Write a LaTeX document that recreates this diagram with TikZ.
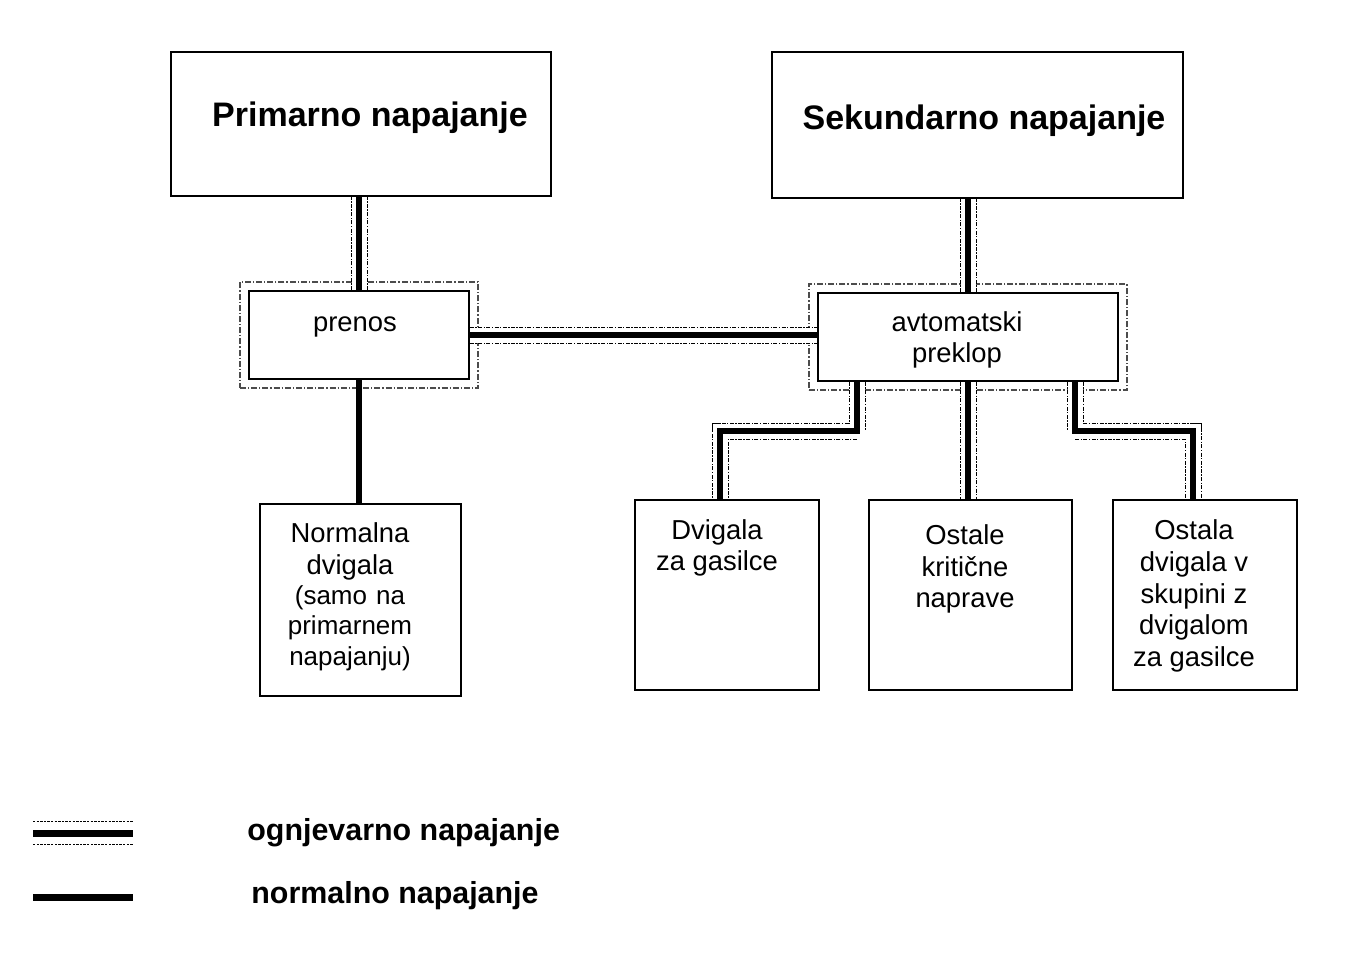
\documentclass[tikz,border=0pt]{standalone}
\usepackage{fontspec}
\setmainfont{Liberation Sans}
\usetikzlibrary{positioning,fit,backgrounds}

\begin{document}
\begin{tikzpicture}[x=0.5pt,y=-0.5pt,
        box/.style = {draw, line width=1pt, fill=white, inner sep=0pt},
        title/.style = {font=\fontsize{17}{20}\selectfont\bfseries, inner sep=0pt},
        txt/.style = {font=\fontsize{13.7}{15.8}\selectfont, align=center, inner sep=0pt},
        frame/.style = {draw=black!70, line width=0.6pt, densely dashdotted, inner sep=4pt},
        fire/.style = {draw=white, line width=7.5pt,
            preaction={draw=black, line width=8.5pt, dash pattern=on 2pt off 0.7pt on 0.7pt off 0.7pt},
            postaction={draw=black, line width=3pt}},
        firekey/.style = {draw=white, line width=11pt,
            preaction={draw=black, line width=12pt, dash pattern=on 1.2pt off 0.6pt},
            postaction={draw=black, line width=3.5pt}},
        normal/.style = {line width=3pt}]

    \useasboundingbox (0,0) rectangle (1364,958);

    \node[box, minimum width=190pt, minimum height=72pt] (prim) at (361,124) {};
    \node[title] (primtxt) at (370,118) {Primarno napajanje};
    \node[box, minimum width=205.5pt, minimum height=73pt] (sek) at (977.5,125) {};
    \node[title] (sektxt) at (984,121) {Sekundarno napajanje};

    \node[box, minimum width=110pt, minimum height=44pt] (prenos) at (359,335) {};
    \node[txt] (prenostxt) at (355,327) {prenos};
    \node[box, minimum width=150pt, minimum height=44pt] (preklop) at (968,337) {};
    \node[txt] (preklotxt) at (957,340) {avtomatski\\preklop};

    \node[box, minimum width=100.5pt, minimum height=96pt] (normal) at (360.5,600) {};
    \node[txt, text width=100pt] (normaltxt) at (350,597)
        {Normalna\\dvigala\par\fontsize{13}{15}\selectfont(samo na\\primarnem\\napajanju)};
    \node[box, minimum width=92pt, minimum height=95pt] (gasilci) at (727,595) {};
    \node[txt] (gasilcitxt) at (717,548) {Dvigala\\za gasilce};
    \node[box, minimum width=101.5pt, minimum height=95pt] (kriticne) at (970.5,595) {};
    \node[txt] (kriticnetxt) at (965,569) {Ostale\\kritične\\naprave};
    \node[box, minimum width=92pt, minimum height=95pt] (skupina) at (1205,595) {};
    \node[txt] (skupinatxt) at (1194,596) {Ostala\\dvigala v\\skupini z\\dvigalom\\za gasilce};

    \begin{pgfonlayer}{background}
        \node[frame, fit=(prenos)] (prenosfr) {};
        \node[frame, fit=(preklop)] (preklopfr) {};
        \draw[fire] (prenos.north) -- (prenos.north |- prim.south);
        \draw[fire] (prenos.east) -- (prenos.east -| preklop.west);
        \draw[fire] (preklop.north) -- (preklop.north |- sek.south);
        \draw[fire] ([xshift=-55.5pt]preklop.south) -- ++(0,49) -| ([xshift=-3.5pt]gasilci.north);
        \draw[fire] (preklop.south) -- (preklop.south |- kriticne.north);
        \draw[fire] ([xshift=53.5pt]preklop.south) -- ++(0,49) -| ([xshift=-6pt]skupina.north);
        \draw[normal] (prenos.south) -- (prenos.south |- normal.north);
    \end{pgfonlayer}

    \coordinate (ogna) at (33,833);
    \coordinate (ognb) at (133,833);
    \draw[firekey] (ogna) -- (ognb);
    \node[title, font=\fontsize{15.2}{18}\selectfont\bfseries, anchor=west] (ogntxt) at (247,833) {ognjevarno napajanje};
    \coordinate (nora) at (33,897);
    \coordinate (norb) at (133,897);
    \draw[normal, line width=3.5pt] (nora) -- (norb);
    \node[title, font=\fontsize{15.2}{18}\selectfont\bfseries, anchor=west] (nortxt) at (251,896) {normalno napajanje};
\end{tikzpicture}
\end{document}
